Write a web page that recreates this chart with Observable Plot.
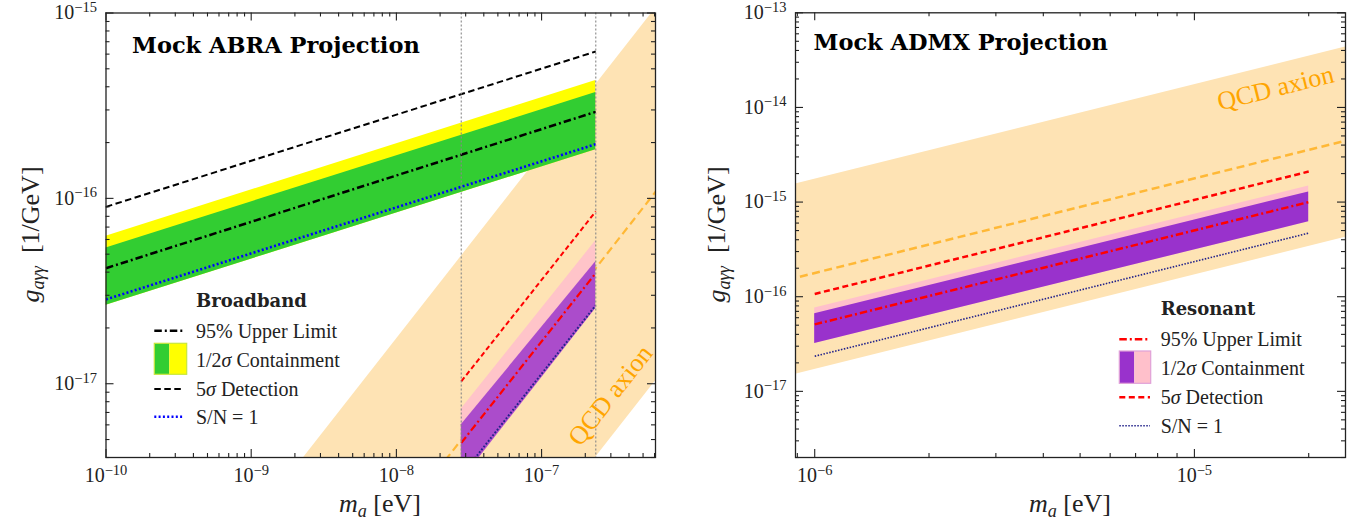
<!DOCTYPE html>
<html><head><meta charset="utf-8">
<script src="https://cdn.jsdelivr.net/npm/d3@7"></script>
<script src="https://cdn.jsdelivr.net/npm/@observablehq/plot@0.6"></script>
<style>
body{margin:0;background:#fff;}
#wrap{display:flex;width:1359px;height:522px;background:#fff;}
#wrap svg{display:block;}
</style></head><body><div id="wrap"></div>
<script>
// ---------------- data ----------------
// QCD axion band (both panels)
const qcdMass   = [1e-10, 1e-4];
const qcdUpper  = [1.74e-19, 1.74e-13];
const qcdLower  = [1.70e-21, 1.70e-15];
const qcdCenter = [1.78e-20, 1.78e-14];

// Broadband (Mock ABRA)
const bbMass    = [1e-10, 2.36e-7];
const bbDet5    = [9.0e-17, 6.2e-16];
const bb2sUpper = [6.25e-17, 4.33e-16];
const bb1sUpper = [5.4e-17, 3.72e-16];
const bbLimit   = [4.2e-17, 2.93e-16];
const bbSN1     = [2.85e-17, 1.96e-16];
const bbLower   = [2.65e-17, 1.83e-16];

// Resonant scan shown in ABRA panel
const raMass    = [2.8e-8, 2.36e-7];
const raDet5    = [1.03e-17, 8.5e-17];
const ra2sUpper = [7.3e-18, 5.9e-17];
const ra1sUpper = [6.0e-18, 4.55e-17];
const raLimit   = [4.8e-18, 3.95e-17];
const raSN1     = [3.2e-18, 2.65e-17];
const raLower   = [3.0e-18, 2.55e-17];
const scanEdges = [2.8e-8, 2.36e-7];

// Resonant (Mock ADMX)
const rsMass    = [1e-6, 2e-5];
const rsDet5    = [1.07e-16, 2.1e-15];
const rs2sUpper = [7.6e-17, 1.48e-15];
const rs1sUpper = [6.6e-17, 1.28e-15];
const rsLimit   = [5.1e-17, 1.0e-15];
const rsSN1     = [2.35e-17, 4.7e-16];
const rsLower   = [3.2e-17, 6.2e-16];

// tick labels (decades)
const leftXTicks  = [1e-10, 1e-9, 1e-8, 1e-7];
const leftYTicks  = [1e-17, 1e-16, 1e-15];
const rightXTicks = [1e-6, 1e-5];
const rightYTicks = [1e-17, 1e-16, 1e-15, 1e-14, 1e-13];

// annotation anchors (data coordinates)
const qcdLabelLeft  = [{m: 2.98e-7, g: 8.65e-18}];
const qcdLabelRight = [{m: 1.635e-5, g: 1.60e-14}];

// ---------------- helpers ----------------
const zip = (m, cols) => m.map((v, i) => {
  const o = {m: v};
  for (const k in cols) o[k] = cols[k][i];
  return o;
});
const qcd = zip(qcdMass, {hi: qcdUpper, lo: qcdLower, c: qcdCenter});
const bb  = zip(bbMass, {d5: bbDet5, u2: bb2sUpper, u1: bb1sUpper, ul: bbLimit, sn: bbSN1, lo: bbLower});
const ra  = zip(raMass, {d5: raDet5, u2: ra2sUpper, u1: ra1sUpper, ul: raLimit, sn: raSN1, lo: raLower});
const rs  = zip(rsMass, {d5: rsDet5, u2: rs2sUpper, u1: rs1sUpper, ul: rsLimit, sn: rsSN1, lo: rsLower});

const INK = "#222";
const fmt = d => "10^" + Math.round(Math.log10(d));
const LN = {strokeLinecap: "butt", strokeLinejoin: "miter", clip: true};

function logTicks(domain) {
  const out = [];
  const a = Math.floor(Math.log10(domain[0])), b = Math.ceil(Math.log10(domain[1]));
  for (let e = a; e <= b; e++) for (let k = 1; k <= 9; k++) {
    const v = k * Math.pow(10, e);
    if (v >= domain[0] * 0.9999 && v <= domain[1] * 1.0001) out.push({v, major: k === 1});
  }
  return out;
}

function tickMarks(xd, yd, iw, ih) {
  const xt = logTicks(xd), yt = logTicks(yd);
  const xM = xt.filter(d => d.major).map(d => d.v), xm = xt.filter(d => !d.major).map(d => d.v);
  const yM = yt.filter(d => d.major).map(d => d.v), ym = yt.filter(d => !d.major).map(d => d.v);
  const o = {stroke: INK, strokeWidth: 1.1};
  return [
    Plot.tickX(xM, {...o, x: d => d, insetTop: ih - 8}),
    Plot.tickX(xM, {...o, x: d => d, insetBottom: ih - 8}),
    Plot.tickX(xm, {...o, x: d => d, insetTop: ih - 4}),
    Plot.tickX(xm, {...o, x: d => d, insetBottom: ih - 4}),
    Plot.tickY(yM, {...o, y: d => d, insetRight: iw - 8}),
    Plot.tickY(yM, {...o, y: d => d, insetLeft: iw - 8}),
    Plot.tickY(ym, {...o, y: d => d, insetRight: iw - 4}),
    Plot.tickY(ym, {...o, y: d => d, insetLeft: iw - 4})
  ];
}

function supify(svg) {
  d3.select(svg).selectAll("text").each(function() {
    const m = /^10\^(-?)(\d+)$/.exec(this.textContent);
    if (!m) return;
    const el = d3.select(this);
    el.text(null).attr("font-size", 20).style("font-size", "20px").attr("fill", INK);
    el.append("tspan").text("10");
    el.append("tspan").attr("dy", "-0.52em").attr("font-size", "14.5px").text((m[1] ? "\u2212" : "") + m[2]);
  });
}

function rich(sel, parts) {
  for (const p of parts) {
    const t = sel.append("tspan").text(p.t);
    if (p.i) t.attr("font-style", "italic");
    if (p.sub) t.attr("font-size", "0.7em").attr("dy", p.sub);
    if (p.dy) t.attr("dy", p.dy);
  }
}

function axisTitles(svg, {xc, xy, yx, yc}) {
  const s = d3.select(svg);
  const xt = s.append("text").attr("x", xc).attr("y", xy).attr("text-anchor", "middle")
    .attr("font-family", "Liberation Serif").attr("font-size", 26).attr("fill", INK);
  rich(xt, [{t: "m", i: true}, {t: "a", i: true, sub: "0.3em"}, {t: " [eV]", dy: "-0.21em"}]);
  const yt = s.append("text").attr("transform", `translate(${yx},${yc}) rotate(-90)`).attr("text-anchor", "middle")
    .attr("font-family", "Liberation Serif").attr("font-size", 26).attr("fill", INK);
  rich(yt, [{t: "g", i: true}, {t: "a\u03b3\u03b3", i: true, sub: "0.3em"}, {t: "  [1/GeV]", dy: "-0.21em"}]);
}

function legend(svg, L) {
  const s = d3.select(svg).append("g").attr("text-anchor", "start");
  s.append("text").attr("x", L.tx).attr("y", L.headerY).text(L.header).attr("text-anchor", "start")
    .attr("font-family", "DejaVu Serif").attr("font-weight", "bold").attr("font-size", 18).attr("fill", INK);
  for (const r of L.rows) {
    if (r.box) {
      s.append("rect").attr("x", L.x0).attr("y", r.y0).attr("width", r.xm - L.x0).attr("height", r.y1 - r.y0).attr("fill", r.fl);
      s.append("rect").attr("x", r.xm).attr("y", r.y0).attr("width", L.x1b - r.xm).attr("height", r.y1 - r.y0).attr("fill", r.fr);
      s.append("rect").attr("x", L.x0).attr("y", r.y0).attr("width", L.x1b - L.x0).attr("height", r.y1 - r.y0)
        .attr("fill", "none").attr("stroke", r.edge).attr("stroke-width", 1.2);
    } else {
      s.append("line").attr("x1", L.x0).attr("x2", L.x1).attr("y1", r.y).attr("y2", r.y)
        .attr("stroke", r.stroke).attr("stroke-width", r.w).attr("stroke-dasharray", r.dash);
    }
    const t = s.append("text").attr("x", L.tx).attr("y", r.y + 7).attr("text-anchor", "start")
      .attr("font-family", "Liberation Serif").attr("font-size", 20).attr("fill", INK);
    rich(t, r.text);
  }
}

const DASHDOT = "7.5 3 2 3";
const txtUL = [{t: "95% Upper Limit"}];
const txtCont = [{t: "1/2"}, {t: "\u03c3", i: true}, {t: " Containment"}];
const txt5 = [{t: "5"}, {t: "\u03c3", i: true}, {t: " Detection"}];
const txtSN = [{t: "S/N = 1"}];

// ---------------- left panel ----------------
const LW = 680, H = 522;
const lm = {l: 105.5, r: 25, t: 12.5, b: 65};
const lxd = [1e-10, 6.09e-7], lyd = [4.0e-18, 1e-15];
const left = Plot.plot({
  width: LW, height: H,
  marginLeft: lm.l, marginRight: lm.r, marginTop: lm.t, marginBottom: lm.b,
  x: {type: "log", domain: lxd},
  y: {type: "log", domain: lyd},
  style: {fontFamily: "Liberation Serif", fontSize: "20px", color: INK, background: "white", overflow: "visible"},
  marks: [
    Plot.areaY(qcd, {x: "m", y1: "lo", y2: "hi", fill: "#fee3b4", clip: true}),
    Plot.line(qcd, {...LN, x: "m", y: "c", stroke: "#ffb836", strokeWidth: 2.2, strokeDasharray: "8 4.5"}),
    Plot.areaY(bb, {x: "m", y1: "lo", y2: "u2", fill: "#ffff00", clip: true}),
    Plot.areaY(bb, {x: "m", y1: "lo", y2: "u1", fill: "#32cd32", clip: true}),
    Plot.line(bb, {...LN, x: "m", y: "d5", stroke: "black", strokeWidth: 2, strokeDasharray: "6.5 3.5"}),
    Plot.line(bb, {...LN, x: "m", y: "ul", stroke: "black", strokeWidth: 2.5, strokeDasharray: DASHDOT}),
    Plot.line(bb, {...LN, x: "m", y: "sn", stroke: "#0000ff", strokeWidth: 2.6, strokeDasharray: "2 2.3"}),
    Plot.areaY(ra, {x: "m", y1: "lo", y2: "u2", fill: "#ffc0cb", fillOpacity: 0.9, clip: true}),
    Plot.areaY(ra, {x: "m", y1: "lo", y2: "u1", fill: "#9932cc", fillOpacity: 0.82, clip: true}),
    Plot.line(ra, {...LN, x: "m", y: "d5", stroke: "#ff0000", strokeWidth: 2, strokeDasharray: "5 3"}),
    Plot.line(ra, {...LN, x: "m", y: "ul", stroke: "#ff0000", strokeWidth: 2.2, strokeDasharray: DASHDOT}),
    Plot.line(ra, {...LN, x: "m", y: "sn", stroke: "#22228a", strokeWidth: 2, strokeDasharray: "1.8 1.8"}),
    Plot.ruleX(scanEdges, {stroke: "#888", strokeOpacity: 0.8, strokeWidth: 1.4, strokeDasharray: "2 2"}),
    Plot.text(qcdLabelLeft, {x: "m", y: "g", text: () => "QCD axion", rotate: -51.9, fill: "#ffa500", fontSize: 26, textAnchor: "middle", lineAnchor: "middle"}),
    Plot.text(["Mock ABRA Projection"], {frameAnchor: "top-left", dx: 26, dy: 40, lineAnchor: "bottom", textAnchor: "start", fontFamily: "DejaVu Serif", fontWeight: "bold", fontSize: 22.5, fill: "black"}),
    ...tickMarks(lxd, lyd, LW - lm.l - lm.r, H - lm.t - lm.b),
    Plot.axisX(leftXTicks, {tickSize: 0, tickPadding: 10.5, tickFormat: fmt, label: null, fontSize: 20}),
    Plot.axisY(leftYTicks, {tickSize: 0, tickPadding: 9, tickFormat: fmt, label: null, fontSize: 20}),
    Plot.frame({stroke: INK, strokeWidth: 1.3})
  ]
});
supify(left);
axisTitles(left, {xc: 380, xy: 512, yx: 39, yc: 234.5});
legend(left, {
  header: "Broadband", headerY: 306.7, tx: 196, x0: 154.3, x1: 184, x1b: 186.7,
  rows: [
    {y: 330.7, stroke: "black", w: 2.5, dash: DASHDOT, text: txtUL},
    {box: true, y: 360, y0: 343.3, y1: 374.3, xm: 169.3, fl: "#32cd32", fr: "#ffff00", edge: "#c8e63c", text: txtCont},
    {y: 389, stroke: "black", w: 2, dash: "6.5 3.5", text: txt5},
    {y: 416.7, stroke: "#0000ff", w: 2.6, dash: "2 2.3", text: txtSN}
  ]
});

// ---------------- right panel ----------------
const RW = 679;
const rm = {l: 115, r: 14, t: 12.3, b: 65};
const rxd = [8.9e-7, 2.5e-5], ryd = [2.0e-18, 1e-13];
const right = Plot.plot({
  width: RW, height: H,
  marginLeft: rm.l, marginRight: rm.r, marginTop: rm.t, marginBottom: rm.b,
  x: {type: "log", domain: rxd},
  y: {type: "log", domain: ryd},
  style: {fontFamily: "Liberation Serif", fontSize: "20px", color: INK, background: "white", overflow: "visible"},
  marks: [
    Plot.areaY(qcd, {x: "m", y1: "lo", y2: "hi", fill: "#fee3b4", clip: true}),
    Plot.line(qcd, {...LN, x: "m", y: "c", stroke: "#ffb836", strokeWidth: 2.5, strokeDasharray: "8 4.5"}),
    Plot.areaY(rs, {x: "m", y1: "lo", y2: "u2", fill: "#ffc0cb", clip: true}),
    Plot.areaY(rs, {x: "m", y1: "lo", y2: "u1", fill: "#9932cc", clip: true}),
    Plot.line(rs, {...LN, x: "m", y: "d5", stroke: "#ff0000", strokeWidth: 2.5, strokeDasharray: "6 3.5"}),
    Plot.line(rs, {...LN, x: "m", y: "ul", stroke: "#ff0000", strokeWidth: 2.5, strokeDasharray: DASHDOT}),
    Plot.line(rs, {...LN, x: "m", y: "sn", stroke: "#22228a", strokeWidth: 1.6, strokeDasharray: "1.5 1.5"}),
    Plot.text(qcdLabelRight, {x: "m", y: "g", text: () => "QCD axion", rotate: -14, fill: "#ffa500", fontSize: 26, textAnchor: "middle", lineAnchor: "middle"}),
    Plot.text(["Mock ADMX Projection"], {frameAnchor: "top-left", dx: 18, dy: 37, lineAnchor: "bottom", textAnchor: "start", fontFamily: "DejaVu Serif", fontWeight: "bold", fontSize: 22.5, fill: "black"}),
    ...tickMarks(rxd, ryd, RW - rm.l - rm.r, H - rm.t - rm.b),
    Plot.axisX(rightXTicks, {tickSize: 0, tickPadding: 10.5, tickFormat: fmt, label: null, fontSize: 20}),
    Plot.axisY(rightYTicks, {tickSize: 0, tickPadding: 9, tickFormat: fmt, label: null, fontSize: 20}),
    Plot.frame({stroke: INK, strokeWidth: 1.3})
  ]
});
supify(right);
axisTitles(right, {xc: 390, xy: 512, yx: 45, yc: 234.5});
legend(right, {
  header: "Resonant", headerY: 315, tx: 480.7, x0: 439.3, x1: 470, x1b: 470.7,
  rows: [
    {y: 339.3, stroke: "#ff0000", w: 2.5, dash: DASHDOT, text: txtUL},
    {box: true, y: 367.7, y0: 351, y1: 383.3, xm: 454.3, fl: "#9932cc", fr: "#ffc0cb", edge: "#e0a0d8", text: txtCont},
    {y: 397.3, stroke: "#ff0000", w: 2.5, dash: "6 3.5", text: txt5},
    {y: 425.7, stroke: "#22228a", w: 1.6, dash: "1.5 1.5", text: txtSN}
  ]
});

document.getElementById("wrap").append(left, right);
</script></body></html>
